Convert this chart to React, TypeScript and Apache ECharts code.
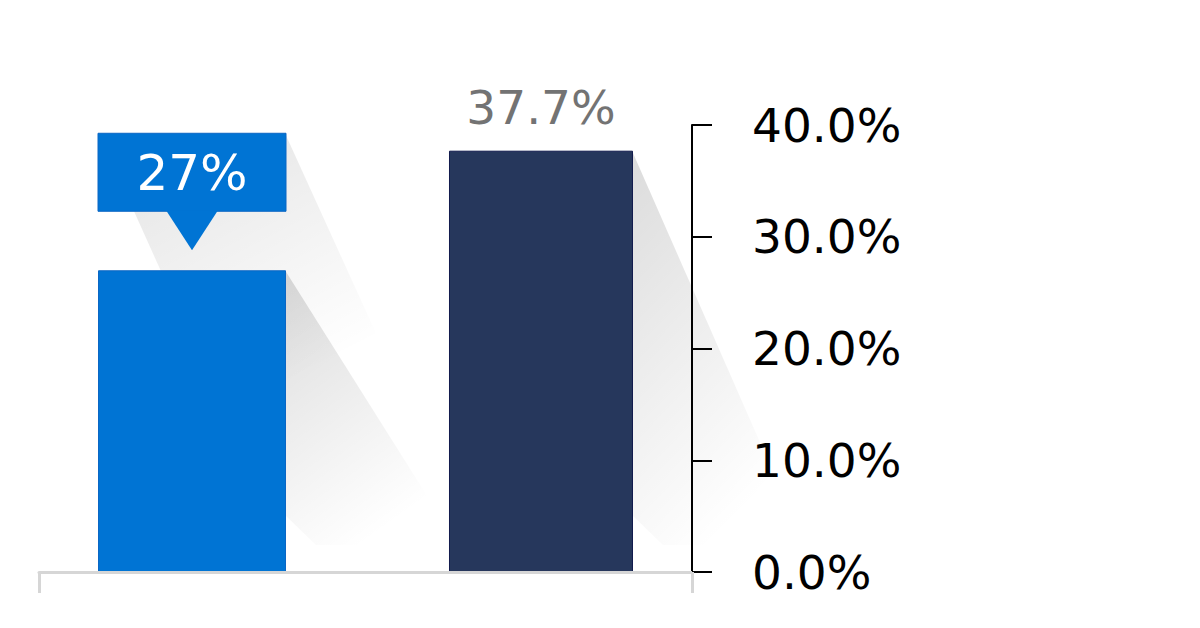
import React, { useEffect, useRef } from 'react';
import * as echarts from 'echarts';

const categories = ['Share'];
const seriesNames = ['Blue', 'Navy'];
const blueValues = [27];
const navyValues = [37.7];
const yMin = 0;
const yMax = 40;
const yStep = 10;

const BAR_WIDTHS = [188, 184];
const BAR_GAP = 0.867;
const FONT = 'DejaVu Sans';

function barRect(api: any, cat: number, s: number, val: number) {
  const base = api.coord([cat, 0]);
  const top = api.coord([cat, val]);
  const total = BAR_WIDTHS[0] * (1 + BAR_GAP) + BAR_WIDTHS[1];
  let left = base[0] - total / 2;
  for (let i = 0; i < s; i++) left += BAR_WIDTHS[i] * (1 + BAR_GAP);
  const w = BAR_WIDTHS[s];
  return { left, right: left + w, width: w, top: top[1], base: base[1], cx: left + w / 2 };
}

const shadowData = [
  ...blueValues.map((v, i) => [i, v, 0]),
  ...navyValues.map((v, i) => [i, v, 1]),
];
const calloutData = blueValues.map((v, i) => [i, v, 0]);

export default function App() {
  const ref = useRef<HTMLDivElement>(null);
  useEffect(() => {
    if (!ref.current) return;
    const chart = echarts.init(ref.current, null, { renderer: 'svg' });
    const grad = (a: number) =>
      new echarts.graphic.LinearGradient(0, 0, 0.45, 1, [
        { offset: 0, color: `rgba(0,0,0,${a})` },
        { offset: 1, color: 'rgba(0,0,0,0)' },
      ]);
    chart.setOption({
      animation: false,
      backgroundColor: '#ffffff',
      grid: { left: 39, right: 508, top: 125, bottom: 56, containLabel: false },
      xAxis: {
        type: 'category',
        data: categories,
        z: 3,
        axisLine: { show: true, lineStyle: { color: '#d6d6d6', width: 3 } },
        axisTick: { show: true, length: 21, lineStyle: { color: '#d6d6d6', width: 3 } },
        axisLabel: { show: false },
        splitLine: { show: false },
      },
      yAxis: {
        type: 'value',
        position: 'right',
        min: yMin,
        max: yMax,
        interval: yStep,
        z: 3,
        axisLine: { show: true, lineStyle: { color: '#000', width: 2 } },
        axisTick: { show: true, length: 20, lineStyle: { color: '#000', width: 2 } },
        splitLine: { show: false },
        axisLabel: {
          margin: 60,
          color: '#000',
          fontSize: 47,
          fontFamily: FONT,
          formatter: (v: number) => `${v.toFixed(1)}%`,
        },
      },
      series: [
        {
          type: 'custom',
          name: 'shadows',
          coordinateSystem: 'cartesian2d',
          encode: { x: 0, y: 1 },
          clip: false,
          z: 1,
          silent: true,
          data: shadowData,
          renderItem: (params: any, api: any) => {
            const cat = api.value(0);
            const val = api.value(1);
            const s = api.value(2);
            const r = barRect(api, cat, s, val);
            const children: any[] = [
              {
                type: 'polygon',
                shape: {
                  points: [
                    [r.right - 1, r.top],
                    [r.right + 172, r.base - 27],
                    [r.right + 30, r.base - 27],
                    [r.right - 1, r.base - 57],
                  ],
                },
                style: { fill: grad(0.14) },
              },
            ];
            if (s === 0) {
              const boxB = r.top - 59;
              const boxT = boxB - 78;
              const L = 200;
              children.push({
                type: 'polygon',
                shape: {
                  points: [
                    [r.left + 36, boxB],
                    [r.right - 1, boxT],
                    [r.right + 0.45 * L, boxT + L],
                    [r.left + 36 + 0.45 * L, boxB + L],
                  ],
                },
                style: { fill: grad(0.11) },
              });
            }
            return { type: 'group', children };
          },
        },
        {
          type: 'bar',
          name: seriesNames[0],
          data: blueValues,
          barWidth: BAR_WIDTHS[0],
          barGap: `${BAR_GAP * 100}%`,
          z: 2,
          itemStyle: { color: '#0074D4', borderColor: '#0b66c4', borderWidth: 1 },
        },
        {
          type: 'bar',
          name: seriesNames[1],
          data: navyValues,
          barWidth: BAR_WIDTHS[1],
          barGap: `${BAR_GAP * 100}%`,
          z: 2,
          itemStyle: { color: '#26375C', borderColor: '#111a4c', borderWidth: 1 },
          label: {
            show: true,
            position: 'top',
            distance: 20,
            formatter: '{c}%',
            color: '#737373',
            fontSize: 47,
            fontFamily: FONT,
          },
        },
        {
          type: 'custom',
          name: 'callout',
          coordinateSystem: 'cartesian2d',
          encode: { x: 0, y: 1 },
          clip: false,
          z: 4,
          silent: true,
          data: calloutData,
          renderItem: (params: any, api: any) => {
            const cat = api.value(0);
            const val = api.value(1);
            const s = api.value(2);
            const r = barRect(api, cat, s, val);
            const boxB = r.top - 59;
            const boxT = boxB - 78;
            return {
              type: 'group',
              children: [
                {
                  type: 'rect',
                  shape: { x: r.left, y: boxT, width: r.width, height: 78 },
                  style: { fill: '#0074D4', stroke: '#0b66c4', lineWidth: 1 },
                },
                {
                  type: 'polygon',
                  shape: {
                    points: [
                      [r.cx - 26, boxB - 1],
                      [r.cx + 26, boxB - 1],
                      [r.cx, boxB + 39],
                    ],
                  },
                  style: { fill: '#0074D4' },
                },
                {
                  type: 'text',
                  x: r.cx,
                  y: boxT + 40,
                  style: {
                    text: `${val}%`,
                    fill: '#ffffff',
                    fontSize: 50,
                    fontFamily: FONT,
                    align: 'center',
                    verticalAlign: 'middle',
                  },
                },
              ],
            };
          },
        },
      ],
    });
    return () => chart.dispose();
  }, []);
  return (
    <div
      ref={ref}
      style={{ position: 'fixed', left: 0, top: 0, width: 1200, height: 628, background: '#fff' }}
    />
  );
}
